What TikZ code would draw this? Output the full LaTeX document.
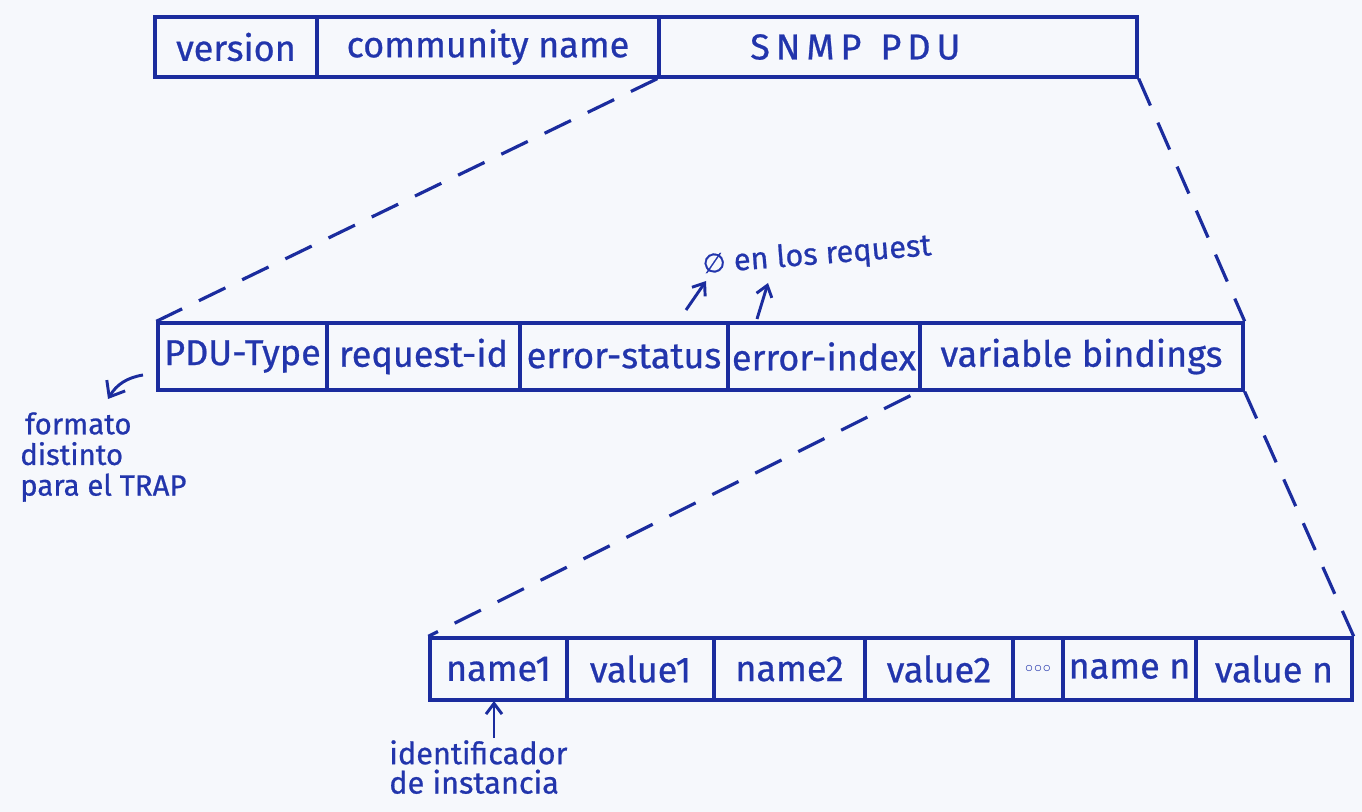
\documentclass[tikz,border=0pt]{standalone}
\usepackage{fontspec}
\setmainfont{Fira Sans}
\newfontfamily\hand[FakeBold=0.7]{Fira Sans}
\newfontfamily\symfont[FakeBold=0.7]{DejaVu Sans}
\usetikzlibrary{arrows.meta,calc}
\definecolor{ink}{HTML}{1B2C9E}
\definecolor{inktext}{HTML}{2235AC}
\definecolor{paper}{HTML}{F6F8FC}
\tikzset{
  cell/.style={draw=ink, line width=2.5pt, inner sep=0pt, text=inktext,
    font=\hand\fontsize{27}{29}\selectfont},
  zoomline/.style={draw=ink, line width=2.4pt, dash pattern=on 22pt off 14pt},
  note/.style={text=inktext, align=left, inner sep=0pt,
    font=\hand\fontsize{22}{23}\selectfont},
  notearrow/.style={draw=ink, line width=2.2pt, -{Straight Barb[length=8pt,width=12pt,line width=2.2pt]}}
}
\begin{document}
\begin{tikzpicture}[x=0.75pt,y=-0.75pt]
\useasboundingbox (0,0) rectangle (1362,812);
\fill[paper] (0,0) rectangle (1362,812);

% row 1
\node[cell, minimum width=162*0.75pt, minimum height=60*0.75pt] (version) at (236,47) {version};
\node[cell, minimum width=342*0.75pt, minimum height=60*0.75pt] (community) at (488,47) {community name};
\node[cell, minimum width=478*0.75pt, minimum height=60*0.75pt] (snmp) at (898,47) {S\,N\,M\,P\ \ P\,D\,U\hspace*{64pt}};

% row 2
\node[cell, minimum width=169*0.75pt, minimum height=67*0.75pt] (pdutype) at (242.5,356.5) {PDU-Type};
\node[cell, minimum width=193*0.75pt, minimum height=67*0.75pt] (reqid) at (423.5,356.5) {request-id};
\node[cell, minimum width=208*0.75pt, minimum height=67*0.75pt] (errstat) at (624,356.5) {error-status};
\node[cell, minimum width=192*0.75pt, minimum height=67*0.75pt] (errindex) at (824,356.5) {error-index};
\node[cell, minimum width=323*0.75pt, minimum height=67*0.75pt] (varbind) at (1081.5,356.5) {variable bindings};

% row 3
\node[cell, minimum width=137*0.75pt, minimum height=62*0.75pt] (n1) at (498.5,669) {name1};
\node[cell, minimum width=147*0.75pt, minimum height=62*0.75pt] (v1) at (640.5,669) {value1};
\node[cell, minimum width=151*0.75pt, minimum height=62*0.75pt] (n2) at (789.5,669) {name2};
\node[cell, minimum width=148*0.75pt, minimum height=62*0.75pt] (v2) at (939,669) {value2};
\node[cell, minimum width=50*0.75pt, minimum height=62*0.75pt] (dots) at (1038,669) {\fontsize{13}{13}\selectfont$\circ\!\circ\!\circ$};
\node[cell, minimum width=133*0.75pt, minimum height=62*0.75pt] (nn) at (1129.5,669) {name n};
\node[cell, minimum width=156*0.75pt, minimum height=62*0.75pt] (vn) at (1274,669) {value n};

% zoom lines
\draw[zoomline] (snmp.south west) -- (pdutype.north west);
\draw[zoomline] (snmp.south east) -- (varbind.north east);
\draw[zoomline] ($(varbind.south west)+(-8,4)$) -- (n1.north west);
\draw[zoomline] (varbind.south east) -- (vn.north east);

% annotations
\node[note, rotate=4.5, font=\hand\fontsize{23}{23}\selectfont] (req) at (817,256) {{\symfont\fontsize{20}{20}\selectfont ∅} en los request};
\coordinate (r1s) at (686,310);
\coordinate (r1e) at (706,281);
\coordinate (r2s) at (757,319);
\coordinate (r2e) at (768,283);
\draw[notearrow] (r1s) -- (r1e);
\draw[notearrow] (r2s) -- (r2e);

\node[note, anchor=north west] (trap) at (20,412) {\,formato\\distinto\\para el TRAP};
\coordinate (t1s) at (143,375);
\coordinate (t1e) at (108,399);
\draw[notearrow, -{Straight Barb[length=10pt,width=16pt,line width=2.2pt]}] (t1s) to[bend right=25] (t1e);

\node[note, anchor=north west, font=\hand\fontsize{23}{22}\selectfont] (inst) at (389,740) {identificador\\de instancia};
\coordinate (i1s) at (494,738);
\coordinate (i1e) at (494,701);
\draw[notearrow] (i1s) -- (i1e);
\end{tikzpicture}
\end{document}
